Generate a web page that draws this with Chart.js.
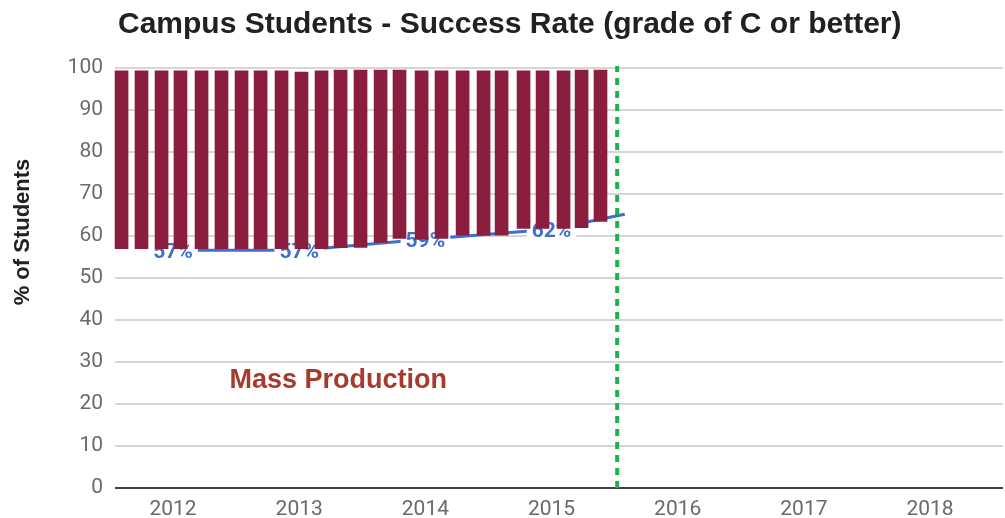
<!DOCTYPE html>
<html><head><meta charset="utf-8">
<script src="https://cdn.jsdelivr.net/npm/chart.js@4/dist/chart.umd.min.js"></script>
<style>html,body{margin:0;padding:0;background:#fff;} canvas{display:block;}</style>
</head><body>
<canvas id="c" width="1005" height="518"></canvas>
<script>
const chartTitle = 'Campus Students - Success Rate (grade of C or better)';
const yAxisTitle = '% of Students';
const phaseLabel = 'Mass Production';
const yearTicks = [2012, 2013, 2014, 2015, 2016, 2017, 2018];

// floating bars: position (fractional year), bottom and top of each bar (%)
const barPositions = [2011.592, 2011.750, 2011.909, 2012.059, 2012.226, 2012.384, 2012.543, 2012.694,
  2012.860, 2013.018, 2013.177, 2013.328, 2013.486, 2013.645, 2013.795, 2013.970, 2014.128, 2014.295,
  2014.461, 2014.604, 2014.778, 2014.929, 2015.095, 2015.238, 2015.388];
const barLow = [57.0, 57.0, 57.0, 57.0, 57.0, 57.0, 57.0, 57.0, 57.0, 57.0, 57.0, 57.2, 57.3, 58.5,
  59.4, 59.2, 59.4, 60.2, 60.2, 60.2, 61.8, 61.8, 61.8, 62.0, 63.5];
const barHigh = [99.3, 99.3, 99.3, 99.3, 99.3, 99.3, 99.3, 99.3, 99.3, 99.0, 99.3, 99.5, 99.5, 99.5,
  99.5, 99.3, 99.3, 99.3, 99.3, 99.3, 99.3, 99.3, 99.3, 99.5, 99.5];

// success-rate trend line (last point = where the visible line ends)
const trendYears = [2012, 2013, 2014, 2015, 2015.58];
const trendValues = [56.6, 56.6, 59.2, 61.6, 65.2];
const trendLabels = ['57%', '57%', '59%', '62%', ''];

// vertical marker
const markerYear = [2015.52, 2015.52];
const markerValues = [0, 100.5];

const annotationPos = { x: 2013.31, y: 25.5 };

const labelPlugin = {
  id: 'labelPlugin',
  afterDatasetDraw(chart, args) {
    if (args.index !== 1) return;
    const ctx = chart.ctx;
    ctx.save();
    ctx.font = 'bold 21px Roboto, "Liberation Sans", sans-serif';
    ctx.textAlign = 'center';
    ctx.textBaseline = 'middle';
    args.meta.data.forEach((pt, i) => {
      const t = trendLabels[i];
      if (!t) return;
      const w = ctx.measureText(t).width;
      ctx.fillStyle = '#ffffff';
      ctx.fillRect(pt.x - w / 2 - 5, pt.y - 8, w + 10, 19);
      ctx.fillStyle = '#3d6fd0';
      ctx.fillText(t, pt.x, pt.y + 2.5);
    });
    ctx.restore();
  },
  afterDraw(chart) {
    const ctx = chart.ctx;
    const xs = chart.scales.x, ys = chart.scales.y;
    ctx.save();
    ctx.fillStyle = '#212121';
    ctx.font = 'bold 30px "Liberation Sans", Arial, sans-serif';
    ctx.textAlign = 'left';
    ctx.textBaseline = 'alphabetic';
    ctx.fillText(chartTitle, 118, 33);
    ctx.translate(23, 232);
    ctx.rotate(-Math.PI / 2);
    ctx.font = 'bold 22px "Liberation Sans", Arial, sans-serif';
    ctx.textAlign = 'center';
    ctx.textBaseline = 'middle';
    ctx.fillText(yAxisTitle, 0, 0);
    ctx.restore();
    ctx.save();
    ctx.fillStyle = '#a83a2c';
    ctx.font = 'bold 27px "Liberation Sans", Arial, sans-serif';
    ctx.textAlign = 'center';
    ctx.textBaseline = 'middle';
    ctx.fillText(phaseLabel, xs.getPixelForValue(annotationPos.x), ys.getPixelForValue(annotationPos.y));
    ctx.restore();
  }
};

new Chart(document.getElementById('c'), {
  type: 'bar',
  data: {
    datasets: [
      {
        type: 'bar',
        data: barPositions.map((p, i) => ({ x: p, y: [barLow[i], barHigh[i]] })),
        backgroundColor: '#8b1d3f',
        barThickness: 13,
        order: 1,
        clip: false
      },
      {
        type: 'line',
        data: trendYears.map((p, i) => ({ x: p, y: trendValues[i] })),
        borderColor: '#3d6fd0',
        borderWidth: 3,
        pointRadius: 0,
        tension: 0,
        fill: false,
        order: 2,
        clip: false
      },
      {
        type: 'line',
        data: markerYear.map((p, i) => ({ x: p, y: markerValues[i] })),
        borderColor: '#1fb24b',
        borderWidth: 4,
        borderDash: [7, 6],
        pointRadius: 0,
        fill: false,
        order: 0,
        clip: false
      }
    ]
  },
  options: {
    responsive: false,
    animation: false,
    devicePixelRatio: 1,
    layout: { padding: { top: 68, right: 2, bottom: 0, left: 0 } },
    plugins: { legend: { display: false }, tooltip: { enabled: false }, title: { display: false } },
    scales: {
      x: {
        type: 'linear',
        offset: false,
        min: 2011.54,
        max: 2018.578,
        afterBuildTicks: (s) => { s.ticks = yearTicks.map(v => ({ value: v })); },
        afterFit: (s) => { s.height = 30; },
        grid: { display: false, drawTicks: false },
        border: { display: false },
        ticks: {
          padding: 9,
          color: '#6a6a6a',
          font: { family: 'Roboto', size: 21 },
          callback: (v) => String(v),
          maxRotation: 0,
          autoSkip: false
        }
      },
      y: {
        min: 0,
        max: 100,
        afterFit: (s) => { s.width = 115; },
        border: { display: false },
        grid: {
          drawTicks: false,
          lineWidth: 2,
          color: (c) => (c.tick && c.tick.value === 0 ? '#404040' : '#d6d6d6')
        },
        ticks: {
          stepSize: 10,
          padding: 12,
          color: '#6a6a6a',
          font: { family: 'Roboto', size: 21 }
        }
      }
    }
  },
  plugins: [labelPlugin]
});
</script>
</body></html>
